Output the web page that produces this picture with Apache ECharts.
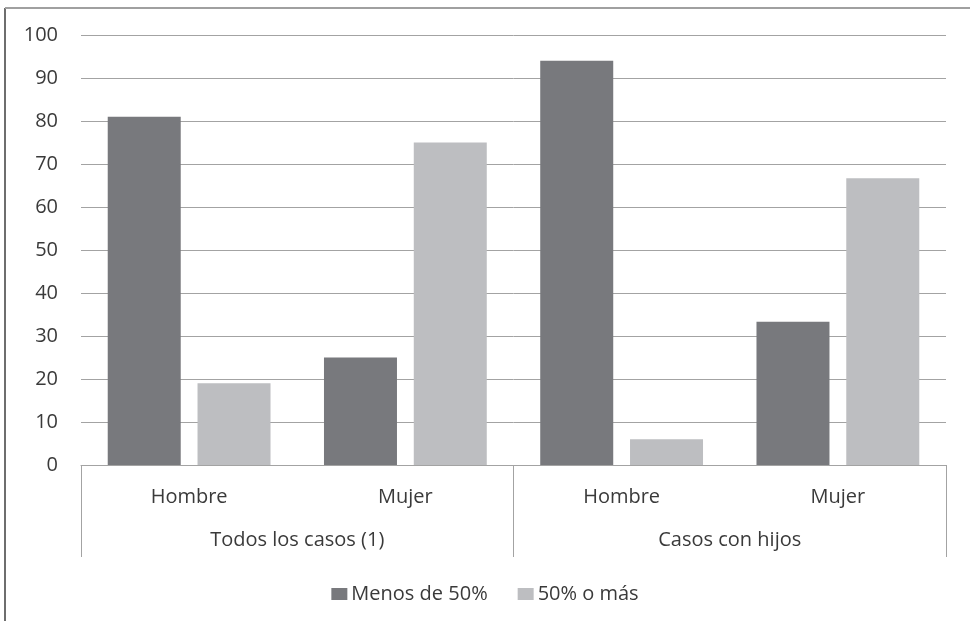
<!DOCTYPE html>
<html>
<head>
<meta charset="utf-8">
<script src="https://cdn.jsdelivr.net/npm/echarts@6/dist/echarts.min.js"></script>
<style>html,body{margin:0;padding:0;background:#fff}#c{width:970px;height:621px}</style>
</head>
<body>
<div id="c"></div>
<script>
const subCategories = ['Hombre', 'Mujer', 'Hombre', 'Mujer'];
const groupCategories = ['Todos los casos (1)', 'Casos con hijos'];
const seriesNames = ['Menos de 50%', '50% o más'];
const menos50 = [81, 25, 94, 33.3];
const mas50 = [19, 75, 6, 66.7];
const yTicks = { min: 0, max: 100, interval: 10 };

const chart = echarts.init(document.getElementById('c'));
const font = '"Open Sans", "Liberation Sans", sans-serif';
const gridColor = '#a3a3a3';
const textColor = '#3a3a3a';
chart.setOption({
  animation: false,
  textStyle: { fontFamily: font },
  graphic: [
    { type: 'line', shape: { x1: 5, y1: 8, x2: 5, y2: 621 }, style: { stroke: '#6e6e6e', lineWidth: 2 } },
    { type: 'line', shape: { x1: 5, y1: 8, x2: 970, y2: 8 }, style: { stroke: '#a0a0a0', lineWidth: 2 } }
  ],
  grid: { left: 81, right: 24, top: 35, bottom: 156 },
  legend: {
    bottom: 12, left: 'center',
    itemWidth: 16, itemHeight: 12, itemGap: 30,
    icon: 'rect',
    textStyle: { fontFamily: font, fontSize: 20, color: textColor, padding: [0, 0, 0, -1] },
    data: seriesNames
  },
  xAxis: [
    {
      type: 'category', data: subCategories, position: 'bottom',
      axisLine: { show: true, lineStyle: { color: gridColor, width: 1 } },
      axisTick: { show: false },
      axisLabel: { margin: 22, fontSize: 20, color: textColor, fontFamily: font }
    },
    {
      type: 'category', data: groupCategories, position: 'bottom',
      axisLine: { show: false },
      axisTick: { show: true, length: 92, lineStyle: { color: gridColor, width: 1 } },
      axisLabel: { margin: 65, fontSize: 20, color: textColor, fontFamily: font }
    }
  ],
  yAxis: {
    type: 'value', min: yTicks.min, max: yTicks.max, interval: yTicks.interval,
    axisLine: { show: false }, axisTick: { show: false },
    splitLine: { lineStyle: { color: gridColor, width: 1 } },
    axisLabel: { margin: 23, fontSize: 20, color: textColor, fontFamily: font }
  },
  series: [
    { name: seriesNames[0], type: 'bar', xAxisIndex: 0, data: menos50, barWidth: 73, barGap: '23%', itemStyle: { color: '#78797d' } },
    { name: seriesNames[1], type: 'bar', xAxisIndex: 0, data: mas50, barWidth: 73, barGap: '23%', itemStyle: { color: '#bdbec1' } }
  ]
});
</script>
</body>
</html>
